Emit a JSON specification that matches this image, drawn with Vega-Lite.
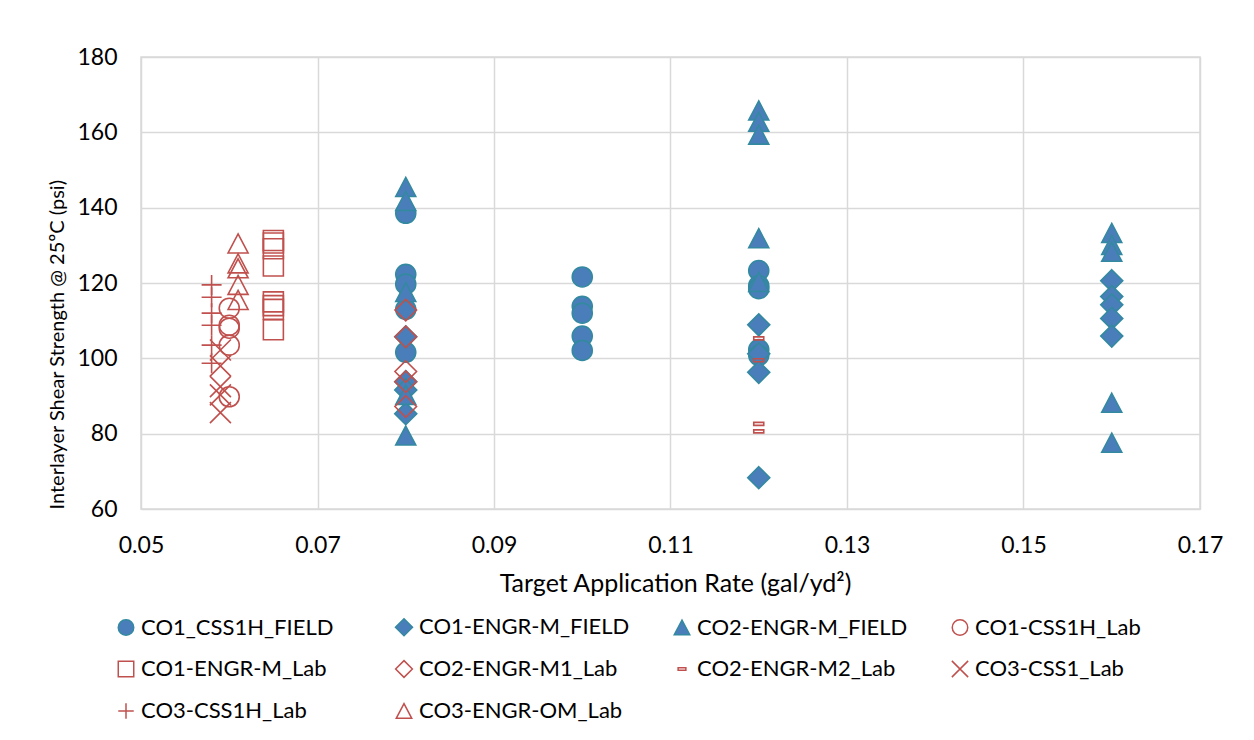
{
  "$schema": "https://vega.github.io/schema/vega-lite/v6.json",
  "width": 1059,
  "height": 452,
  "autosize": "none",
  "padding": {"left": 141, "top": 57, "right": 54, "bottom": 231},
  "background": "white",
  "config": {
    "font": "Lato",
    "view": {"stroke": "#D9D9D9", "strokeWidth": 1.5}
  },
  "data": {
    "values": [
      {"series": "CO1_CSS1H_FIELD", "rate": 0.08, "iss": 138.5},
      {"series": "CO1_CSS1H_FIELD", "rate": 0.08, "iss": 122.3},
      {"series": "CO1_CSS1H_FIELD", "rate": 0.08, "iss": 119.7},
      {"series": "CO1_CSS1H_FIELD", "rate": 0.08, "iss": 113.0},
      {"series": "CO1_CSS1H_FIELD", "rate": 0.08, "iss": 101.6},
      {"series": "CO1_CSS1H_FIELD", "rate": 0.10, "iss": 121.6},
      {"series": "CO1_CSS1H_FIELD", "rate": 0.10, "iss": 113.8},
      {"series": "CO1_CSS1H_FIELD", "rate": 0.10, "iss": 112.0},
      {"series": "CO1_CSS1H_FIELD", "rate": 0.10, "iss": 105.9},
      {"series": "CO1_CSS1H_FIELD", "rate": 0.10, "iss": 102.1},
      {"series": "CO1_CSS1H_FIELD", "rate": 0.12, "iss": 123.3},
      {"series": "CO1_CSS1H_FIELD", "rate": 0.12, "iss": 119.3},
      {"series": "CO1_CSS1H_FIELD", "rate": 0.12, "iss": 118.5},
      {"series": "CO1_CSS1H_FIELD", "rate": 0.12, "iss": 102.3},
      {"series": "CO1_CSS1H_FIELD", "rate": 0.12, "iss": 100.8},
      {"series": "CO1-ENGR-M_FIELD", "rate": 0.08, "iss": 105.7},
      {"series": "CO1-ENGR-M_FIELD", "rate": 0.08, "iss": 93.8},
      {"series": "CO1-ENGR-M_FIELD", "rate": 0.08, "iss": 91.6},
      {"series": "CO1-ENGR-M_FIELD", "rate": 0.08, "iss": 85.3},
      {"series": "CO1-ENGR-M_FIELD", "rate": 0.12, "iss": 108.9},
      {"series": "CO1-ENGR-M_FIELD", "rate": 0.12, "iss": 101.2},
      {"series": "CO1-ENGR-M_FIELD", "rate": 0.12, "iss": 96.3},
      {"series": "CO1-ENGR-M_FIELD", "rate": 0.12, "iss": 68.3},
      {"series": "CO1-ENGR-M_FIELD", "rate": 0.16, "iss": 120.6},
      {"series": "CO1-ENGR-M_FIELD", "rate": 0.16, "iss": 116.4},
      {"series": "CO1-ENGR-M_FIELD", "rate": 0.16, "iss": 114.2},
      {"series": "CO1-ENGR-M_FIELD", "rate": 0.16, "iss": 110.6},
      {"series": "CO1-ENGR-M_FIELD", "rate": 0.16, "iss": 105.9},
      {"series": "CO2-ENGR-M_FIELD", "rate": 0.08, "iss": 145.5},
      {"series": "CO2-ENGR-M_FIELD", "rate": 0.08, "iss": 141.8},
      {"series": "CO2-ENGR-M_FIELD", "rate": 0.08, "iss": 117.6},
      {"series": "CO2-ENGR-M_FIELD", "rate": 0.08, "iss": 90.3},
      {"series": "CO2-ENGR-M_FIELD", "rate": 0.08, "iss": 79.5},
      {"series": "CO2-ENGR-M_FIELD", "rate": 0.12, "iss": 165.8},
      {"series": "CO2-ENGR-M_FIELD", "rate": 0.12, "iss": 162.8},
      {"series": "CO2-ENGR-M_FIELD", "rate": 0.12, "iss": 159.4},
      {"series": "CO2-ENGR-M_FIELD", "rate": 0.12, "iss": 131.9},
      {"series": "CO2-ENGR-M_FIELD", "rate": 0.12, "iss": 120.3},
      {"series": "CO2-ENGR-M_FIELD", "rate": 0.16, "iss": 133.3},
      {"series": "CO2-ENGR-M_FIELD", "rate": 0.16, "iss": 130.1},
      {"series": "CO2-ENGR-M_FIELD", "rate": 0.16, "iss": 128.3},
      {"series": "CO2-ENGR-M_FIELD", "rate": 0.16, "iss": 88.2},
      {"series": "CO2-ENGR-M_FIELD", "rate": 0.16, "iss": 77.6},
      {"series": "CO1-CSS1H_Lab", "rate": 0.06, "iss": 113.3},
      {"series": "CO1-CSS1H_Lab", "rate": 0.06, "iss": 108.8},
      {"series": "CO1-CSS1H_Lab", "rate": 0.06, "iss": 108.0},
      {"series": "CO1-CSS1H_Lab", "rate": 0.06, "iss": 103.5},
      {"series": "CO1-CSS1H_Lab", "rate": 0.06, "iss": 89.8},
      {"series": "CO1-ENGR-M_Lab", "rate": 0.065, "iss": 131.3},
      {"series": "CO1-ENGR-M_Lab", "rate": 0.065, "iss": 130.6},
      {"series": "CO1-ENGR-M_Lab", "rate": 0.065, "iss": 129.1},
      {"series": "CO1-ENGR-M_Lab", "rate": 0.065, "iss": 124.5},
      {"series": "CO1-ENGR-M_Lab", "rate": 0.065, "iss": 115.0},
      {"series": "CO1-ENGR-M_Lab", "rate": 0.065, "iss": 114.0},
      {"series": "CO1-ENGR-M_Lab", "rate": 0.065, "iss": 113.0},
      {"series": "CO1-ENGR-M_Lab", "rate": 0.065, "iss": 107.6},
      {"series": "CO2-ENGR-M1_Lab", "rate": 0.08, "iss": 112.8},
      {"series": "CO2-ENGR-M1_Lab", "rate": 0.08, "iss": 105.7},
      {"series": "CO2-ENGR-M1_Lab", "rate": 0.08, "iss": 96.5},
      {"series": "CO2-ENGR-M1_Lab", "rate": 0.08, "iss": 93.8},
      {"series": "CO2-ENGR-M1_Lab", "rate": 0.08, "iss": 87.2},
      {"series": "CO2-ENGR-M2_Lab", "rate": 0.12, "iss": 105.3},
      {"series": "CO2-ENGR-M2_Lab", "rate": 0.12, "iss": 99.5},
      {"series": "CO2-ENGR-M2_Lab", "rate": 0.12, "iss": 82.6},
      {"series": "CO2-ENGR-M2_Lab", "rate": 0.12, "iss": 80.6},
      {"series": "CO3-CSS1_Lab", "rate": 0.059, "iss": 102.2},
      {"series": "CO3-CSS1_Lab", "rate": 0.059, "iss": 98.0},
      {"series": "CO3-CSS1_Lab", "rate": 0.059, "iss": 92.5},
      {"series": "CO3-CSS1_Lab", "rate": 0.059, "iss": 90.3},
      {"series": "CO3-CSS1_Lab", "rate": 0.059, "iss": 85.6},
      {"series": "CO3-CSS1H_Lab", "rate": 0.058, "iss": 119.5},
      {"series": "CO3-CSS1H_Lab", "rate": 0.058, "iss": 116.2},
      {"series": "CO3-CSS1H_Lab", "rate": 0.058, "iss": 112.0},
      {"series": "CO3-CSS1H_Lab", "rate": 0.058, "iss": 108.8},
      {"series": "CO3-CSS1H_Lab", "rate": 0.058, "iss": 103.5},
      {"series": "CO3-CSS1H_Lab", "rate": 0.058, "iss": 98.7},
      {"series": "CO3-ENGR-OM_Lab", "rate": 0.061, "iss": 130.5},
      {"series": "CO3-ENGR-OM_Lab", "rate": 0.061, "iss": 125.2},
      {"series": "CO3-ENGR-OM_Lab", "rate": 0.061, "iss": 123.9},
      {"series": "CO3-ENGR-OM_Lab", "rate": 0.061, "iss": 119.5},
      {"series": "CO3-ENGR-OM_Lab", "rate": 0.061, "iss": 115.5}
    ]
  },
  "mark": {"type": "point", "size": 400, "opacity": 1, "strokeWidth": 1.6},
  "encoding": {
    "x": {
      "field": "rate",
      "type": "quantitative",
      "scale": {"domain": [0.05, 0.17], "nice": false, "zero": false},
      "axis": {
        "values": [0.05, 0.07, 0.09, 0.11, 0.13, 0.15, 0.17],
        "format": ".2f",
        "title": "Target Application Rate (gal/yd²)",
        "titleFont": "Lato",
        "titleFontSize": 25,
        "titleFontWeight": "normal",
        "titleColor": "#000000",
        "titleX": 534,
        "titleY": 82,
        "titleBaseline": "alphabetic",
        "labelFont": "Lato",
        "labelFontSize": 23,
        "labelColor": "#000000",
        "labelBaseline": "alphabetic",
        "labelPadding": 43,
        "labelFlush": false,
        "labelOverlap": false,
        "ticks": false,
        "tickSize": 0,
        "domain": false,
        "grid": true,
        "gridColor": "#D9D9D9",
        "gridWidth": 1.5
      }
    },
    "y": {
      "field": "iss",
      "type": "quantitative",
      "scale": {"domain": [60, 180], "nice": false, "zero": false},
      "axis": {
        "values": [60, 80, 100, 120, 140, 160, 180],
        "title": "Interlayer Shear Strength @ 25ºC (psi)",
        "titleFont": "Lato",
        "titleFontSize": 20,
        "titleFontWeight": "normal",
        "titleColor": "#000000",
        "titleAngle": 270,
        "titleAnchor": "start",
        "titleAlign": "left",
        "titleBaseline": "middle",
        "titleX": -84,
        "labelFont": "Lato",
        "labelFontSize": 23,
        "labelColor": "#000000",
        "labelPadding": 24,
        "labelFlush": false,
        "labelOverlap": false,
        "ticks": false,
        "tickSize": 0,
        "domain": false,
        "grid": true,
        "gridColor": "#D9D9D9",
        "gridWidth": 1.5
      }
    },
    "shape": {
      "field": "series",
      "type": "nominal",
      "scale": {
        "domain": ["CO1_CSS1H_FIELD", "CO1-ENGR-M_FIELD", "CO2-ENGR-M_FIELD", "CO1-CSS1H_Lab", "CO1-ENGR-M_Lab", "CO2-ENGR-M1_Lab", "CO2-ENGR-M2_Lab", "CO3-CSS1_Lab", "CO3-CSS1H_Lab", "CO3-ENGR-OM_Lab"],
        "range": [
          "circle",
          "M0,-1.1L1.1,0L0,1.1L-1.1,0Z",
          "M0,-0.95L1,0.95L-1,0.95Z",
          "circle",
          "M-1,-1H1V1H-1Z",
          "M0,-1.08L1.08,0L0,1.08L-1.08,0Z",
          "M-0.5,-0.15H0.5V0.15H-0.5Z",
          "M-1.05,-1.05L1.05,1.05M-1.05,1.05L1.05,-1.05",
          "M-1,0H1M0,-1V1",
          "M0,-0.95L1,0.95L-1,0.95Z"
        ]
      },
      "legend": {
        "title": null,
        "orient": "none",
        "legendX": -26,
        "legendY": 559,
        "direction": "horizontal",
        "columns": 4,
        "gridAlign": "all",
        "columnPadding": 40,
        "rowPadding": 18,
        "labelFont": "Lato",
        "labelFontSize": 22,
        "labelColor": "#000000",
        "labelOffset": 4,
        "labelLimit": 400,
        "symbolSize": 240,
        "symbolStrokeWidth": 1.5
      }
    },
    "fill": {
      "field": "series",
      "type": "nominal",
      "scale": {
        "domain": ["CO1_CSS1H_FIELD", "CO1-ENGR-M_FIELD", "CO2-ENGR-M_FIELD", "CO1-CSS1H_Lab", "CO1-ENGR-M_Lab", "CO2-ENGR-M1_Lab", "CO2-ENGR-M2_Lab", "CO3-CSS1_Lab", "CO3-CSS1H_Lab", "CO3-ENGR-OM_Lab"],
        "range": ["#4A7EBA", "#4A7EBA", "#4A7EBA", "transparent", "transparent", "transparent", "transparent", "transparent", "transparent", "transparent"]
      }
    },
    "stroke": {
      "field": "series",
      "type": "nominal",
      "scale": {
        "domain": ["CO1_CSS1H_FIELD", "CO1-ENGR-M_FIELD", "CO2-ENGR-M_FIELD", "CO1-CSS1H_Lab", "CO1-ENGR-M_Lab", "CO2-ENGR-M1_Lab", "CO2-ENGR-M2_Lab", "CO3-CSS1_Lab", "CO3-CSS1H_Lab", "CO3-ENGR-OM_Lab"],
        "range": ["#3389A0", "#3389A0", "#3389A0", "#C0504D", "#C0504D", "#C0504D", "#C0504D", "#C0504D", "#C0504D", "#C0504D"]
      }
    }
  }
}
